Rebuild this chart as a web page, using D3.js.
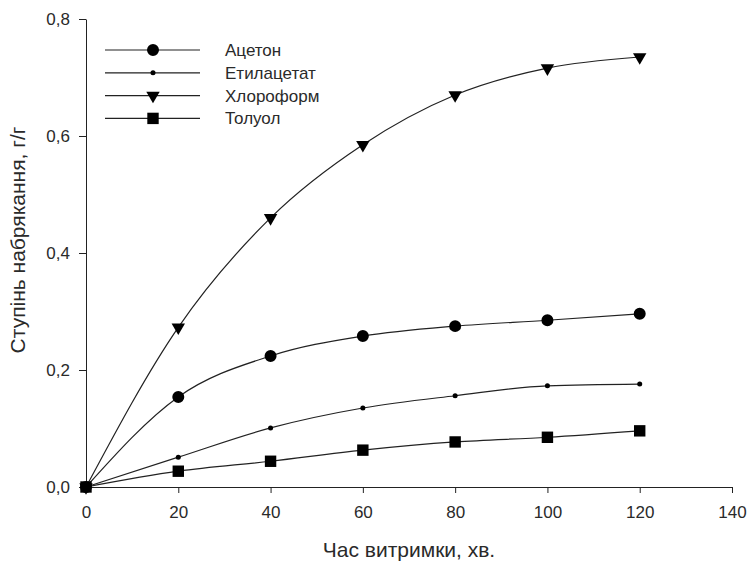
<!DOCTYPE html>
<html>
<head>
<meta charset="utf-8">
<script src="https://cdn.jsdelivr.net/npm/d3@7"></script>
<style>
  body { margin: 0; background: #fff; }
  text { font-family: "Liberation Sans", Arial, sans-serif; fill: #2a2a2a; }
</style>
</head>
<body>
<div id="chart"></div>
<script>
// data
var times = [0, 20, 40, 60, 80, 100, 120];
var acetone = [0, 0.154, 0.224, 0.258, 0.275, 0.285, 0.296];
var ethylAcetate = [0, 0.051, 0.101, 0.135, 0.156, 0.173, 0.176];
var chloroform = [0, 0.273, 0.460, 0.585, 0.670, 0.716, 0.735];
var toluene = [0, 0.027, 0.044, 0.063, 0.077, 0.085, 0.096];
var seriesNames = ["Ацетон", "Етилацетат", "Хлороформ", "Толуол"];
var xTicks = [0, 20, 40, 60, 80, 100, 120, 140];
var yTicks = [0, 0.2, 0.4, 0.6, 0.8];

var width = 747, height = 562;
var margin = {top: 19, right: 15, bottom: 75, left: 86};

var svg = d3.select("#chart").append("svg")
    .attr("width", width)
    .attr("height", height);

var x = d3.scaleLinear().domain([0, 140]).range([margin.left, width - margin.right]);
var y = d3.scaleLinear().domain([0, 0.8]).range([height - margin.bottom, margin.top]);

var fmt = function(d) { return d3.format(".1f")(d).replace(".", ","); };

svg.append("g")
    .attr("transform", "translate(0," + (height - margin.bottom) + ")")
    .call(d3.axisBottom(x).tickValues(xTicks).tickSize(6).tickPadding(13).tickSizeOuter(0))
    .call(function(g) {
      g.selectAll("text").style("font-size", "17px").attr("fill", "#2a2a2a");
      g.selectAll("line, path").attr("stroke", "#222");
    });

svg.append("g")
    .attr("transform", "translate(" + margin.left + ",0)")
    .call(d3.axisLeft(y).tickValues(yTicks).tickFormat(fmt).tickSize(7).tickPadding(9).tickSizeOuter(0))
    .call(function(g) {
      g.selectAll("text").style("font-size", "17px").attr("fill", "#2a2a2a");
      g.selectAll("line, path").attr("stroke", "#222");
    });

svg.append("text")
    .attr("x", x(70))
    .attr("y", 557)
    .attr("text-anchor", "middle")
    .style("font-size", "21px")
    .text("Час витримки, хв.");

svg.append("text")
    .attr("transform", "translate(25,240) rotate(-90)")
    .attr("text-anchor", "middle")
    .style("font-size", "21px")
    .text("Ступінь набрякання, г/г");

var series = [acetone, ethylAcetate, chloroform, toluene];
var symbols = [d3.symbolCircle, d3.symbolCircle, d3.symbolTriangle, d3.symbolSquare];
var sizes = [113, 20, 78, 130];

var line = d3.line()
    .x(function(d, i) { return x(times[i]); })
    .y(function(d) { return y(d); })
    .curve(d3.curveMonotoneX);

function marker(sel, k) {
  var s = d3.symbol().type(symbols[k]).size(sizes[k]);
  sel.attr("d", s).attr("fill", "#000");
  if (k == 2) sel.attr("transform", function() { return d3.select(this).attr("transform") + " rotate(180)"; });
}

series.forEach(function(vals, k) {
  svg.append("path")
      .datum(vals)
      .attr("fill", "none")
      .attr("stroke", "#222")
      .attr("stroke-width", 1.2)
      .attr("d", line);

  svg.selectAll(".m" + k)
      .data(vals)
      .enter().append("path")
      .attr("class", "m" + k)
      .attr("transform", function(d, i) { return "translate(" + x(times[i]) + "," + y(d) + ")"; })
      .call(marker, k);
});

// legend
var legend = svg.append("g");
seriesNames.forEach(function(name, k) {
  var ly = 50 + k * 22.8;
  legend.append("line")
      .attr("x1", 105).attr("x2", 200)
      .attr("y1", ly).attr("y2", ly)
      .attr("stroke", "#222").attr("stroke-width", 1.2);
  legend.append("path")
      .attr("transform", "translate(153," + ly + ")")
      .call(marker, k);
  legend.append("text")
      .attr("x", 225).attr("y", ly + 6)
      .style("font-size", "17px")
      .text(name);
});
</script>
</body>
</html>
